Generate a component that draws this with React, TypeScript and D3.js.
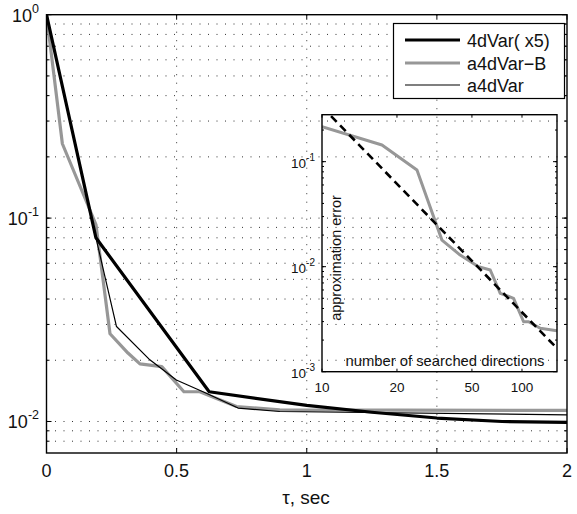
import React from "react";
import * as d3 from "d3";

// ---------- main chart data ----------
const tau4dVar = [0, 0.19, 0.625, 1.0, 1.25, 1.5, 1.75, 2];
const err4dVar = [1, 0.08, 0.014, 0.012, 0.0111, 0.0104, 0.01, 0.0099];

const tauA4dVarB = [0, 0.061, 0.19, 0.244, 0.313, 0.359, 0.443, 0.528, 0.589, 0.73, 0.896, 2];
const errA4dVarB = [1, 0.232, 0.093, 0.027, 0.0217, 0.0192, 0.0186, 0.014, 0.014, 0.01185, 0.0114, 0.01133];

const tauA4dVar = [0, 0.19, 0.269, 0.397, 0.499, 0.612, 0.736, 0.896, 2];
const errA4dVar = [1, 0.08, 0.0293, 0.0201, 0.016, 0.0138, 0.01164, 0.0112, 0.01079];

const xTicks = [0, 0.5, 1, 1.5, 2];
const xTickLabels = ["0", "0.5", "1", "1.5", "2"];
const yMajor = [1, 0.1, 0.01];
const yMajorExp = ["0", "-1", "-2"];

const legendLabels = ["4dVar( x5)", "a4dVar\u2212B", "a4dVar"];

// ---------- inset data ----------
const insetDirections = [10, 18, 28, 38, 45.3, 56.6, 68.3, 78.3, 91.6, 102.3, 109.4, 126.1, 150];
const insetError = [0.215, 0.144, 0.0834, 0.0179, 0.0129, 0.01, 0.0093, 0.00558, 0.005, 0.00299, 0.00299, 0.00259, 0.00246];
const fitDirections = [10, 150];
const fitError = [0.333, 0.00167];

const insetXTicks = [10, 20, 50, 100];
const insetXTickLabels = ["10", "20", "50", "100"];
const insetYMajor = [0.1, 0.01, 0.001];
const insetYExp = ["-1", "-2", "-3"];
// relative placement of the inset's x tick values (fractions of inset width)
const insetXBreaks = [10, 20, 50, 100, 150];
const insetXFrac = [0, 0.319, 0.638, 0.851, 1];

const FONT = "'Liberation Sans', Arial, Helvetica, sans-serif";
const GRAY = "#979797";

export default function App() {
  const W = 577, H = 514;
  const L = 46.5, R = 567, T = 14.7, B = 453;
  const x = d3.scaleLinear().domain([0, 2]).range([L, R]);
  const y = d3.scaleLog().domain([0.007, 1]).range([B, T]);

  const iL = 322, iR = 557, iT = 114.7, iB = 371.7;
  const ix = d3.scaleLinear().domain(insetXBreaks).range(insetXFrac.map((f) => iL + f * (iR - iL)));
  const iy = d3.scaleLog().domain([0.001, 0.28]).range([iB, iT]);

  const line = d3.line<[number, number]>().x((d) => x(d[0])).y((d) => y(d[1]));
  const iline = d3.line<[number, number]>().x((d) => ix(d[0])).y((d) => iy(d[1]));

  const zip = (a: number[], b: number[]) => a.map((v, i) => [v, b[i]] as [number, number]);

  const yGrid = y.ticks().filter((v) => y(v) > T + 1 && y(v) < B - 1);
  const yMinorTicks = y.ticks().filter((v) => y(v) > T + 1 && y(v) < B - 1);
  const xGrid = xTicks.filter((v) => v > 0 && v < 2);
  const iyMinor = iy.ticks().filter((v) => iy(v) > iT + 1 && iy(v) < iB - 1);

  const dot = { stroke: "#333", strokeWidth: 1, strokeDasharray: "1 7.5", fill: "none" } as const;

  const legX = 393.5, legY = 23.5, legW = 171, legH = 75;
  const legRows = [40, 63, 85];
  const legStyles = [
    { stroke: "#000", w: 3.2 },
    { stroke: GRAY, w: 3.2 },
    { stroke: "#000", w: 1.2 },
  ];

  return (
    <svg width={W} height={H} style={{ position: "absolute", left: 0, top: 0, background: "#fff" }} fontFamily={FONT}>
      <defs>
        <clipPath id="mainClip">
          <rect x={L} y={T} width={R - L} height={B - T} />
        </clipPath>
        <clipPath id="insetClip">
          <rect x={iL} y={iT} width={iR - iL} height={iB - iT} />
        </clipPath>
      </defs>
      <rect x={0} y={0} width={W} height={H} fill="#fff" />

      {/* main grid */}
      {yGrid.map((v, i) => (
        <line key={"yg" + i} x1={L} x2={R} y1={y(v)} y2={y(v)} {...dot} />
      ))}
      {xGrid.map((v, i) => (
        <line key={"xg" + i} x1={x(v)} x2={x(v)} y1={T} y2={B} {...dot} />
      ))}

      {/* main ticks */}
      {xTicks.map((v, i) => (
        <g key={"xt" + i}>
          <line x1={x(v)} x2={x(v)} y1={B} y2={B - 5} stroke="#000" />
          <line x1={x(v)} x2={x(v)} y1={T} y2={T + 5} stroke="#000" />
          <text x={x(v)} y={476.5} fontSize={18} textAnchor="middle" fill="#111">
            {xTickLabels[i]}
          </text>
        </g>
      ))}
      {yMinorTicks.map((v, i) => (
        <g key={"ym" + i}>
          <line x1={L} x2={L + 3} y1={y(v)} y2={y(v)} stroke="#000" />
          <line x1={R} x2={R - 3} y1={y(v)} y2={y(v)} stroke="#000" />
        </g>
      ))}
      {yMajor.map((v, i) => (
        <g key={"yM" + i}>
          <line x1={L} x2={L + 5} y1={y(v)} y2={y(v)} stroke="#000" />
          <line x1={R} x2={R - 5} y1={y(v)} y2={y(v)} stroke="#000" />
          <text x={39} y={y(v) + 7} fontSize={18} textAnchor="end" fill="#111">
            10
            <tspan dy={-9} fontSize={12.5}>
              {yMajorExp[i]}
            </tspan>
          </text>
        </g>
      ))}

      {/* inset */}
      <g clipPath="url(#insetClip)">
        <path d={iline(zip(insetDirections, insetError)) || ""} fill="none" stroke={GRAY} strokeWidth={3} strokeLinejoin="round" />
        <path d={iline(zip(fitDirections, fitError)) || ""} fill="none" stroke="#000" strokeWidth={2.6} strokeDasharray="8 5" />
      </g>
      <rect x={iL} y={iT} width={iR - iL} height={iB - iT} fill="none" stroke="#000" strokeWidth={1.4} />
      {insetXTicks.map((v, i) => (
        <g key={"ixt" + i}>
          <line x1={ix(v)} x2={ix(v)} y1={iB} y2={iB - 3} stroke="#000" />
          <line x1={ix(v)} x2={ix(v)} y1={iT} y2={iT + 3} stroke="#000" />
          <text x={ix(v)} y={392} fontSize={13.5} textAnchor="middle" fill="#111">
            {insetXTickLabels[i]}
          </text>
        </g>
      ))}
      {iyMinor.map((v, i) => (
        <g key={"iym" + i}>
          <line x1={iL} x2={iL + 2} y1={iy(v)} y2={iy(v)} stroke="#000" />
          <line x1={iR} x2={iR - 2} y1={iy(v)} y2={iy(v)} stroke="#000" />
        </g>
      ))}
      {insetYMajor.map((v, i) => (
        <g key={"iyM" + i}>
          <line x1={iL} x2={iL + 4} y1={iy(v)} y2={iy(v)} stroke="#000" />
          <line x1={iR} x2={iR - 4} y1={iy(v)} y2={iy(v)} stroke="#000" />
          <text x={315} y={iy(v) + 6} fontSize={13.5} textAnchor="end" fill="#111">
            10
            <tspan dy={-7} fontSize={10}>
              {insetYExp[i]}
            </tspan>
          </text>
        </g>
      ))}
      <text x={445} y={365.5} fontSize={14.8} textAnchor="middle" fill="#111">
        number of searched directions
      </text>
      <text transform={`translate(340.5,258) rotate(-90)`} fontSize={14.5} textAnchor="middle" fill="#111">
        approximation error
      </text>

      {/* main lines */}
      <g clipPath="url(#mainClip)">
        <path d={line(zip(tauA4dVarB, errA4dVarB)) || ""} fill="none" stroke={GRAY} strokeWidth={3.2} strokeLinejoin="round" />
        <path d={line(zip(tau4dVar, err4dVar)) || ""} fill="none" stroke="#000" strokeWidth={3.2} strokeLinejoin="round" />
        <path d={line(zip(tauA4dVar, errA4dVar)) || ""} fill="none" stroke="#000" strokeWidth={1.2} strokeLinejoin="round" />
      </g>

      {/* main frame */}
      <rect x={L} y={T} width={R - L} height={B - T} fill="none" stroke="#000" strokeWidth={1.4} />

      {/* legend */}
      <rect x={legX} y={legY} width={legW} height={legH} fill="#fff" stroke="#000" strokeWidth={1.2} />
      {legendLabels.map((lab, i) => (
        <g key={"lg" + i}>
          <line x1={405} x2={460} y1={legRows[i]} y2={legRows[i]} stroke={legStyles[i].stroke} strokeWidth={legStyles[i].w} />
          <text x={467} y={legRows[i] + 6.5} fontSize={18} fill="#111">
            {lab}
          </text>
        </g>
      ))}

      {/* x label */}
      <text x={306} y={504} fontSize={19} textAnchor="middle" fill="#111">
        τ, sec
      </text>
    </svg>
  );
}
